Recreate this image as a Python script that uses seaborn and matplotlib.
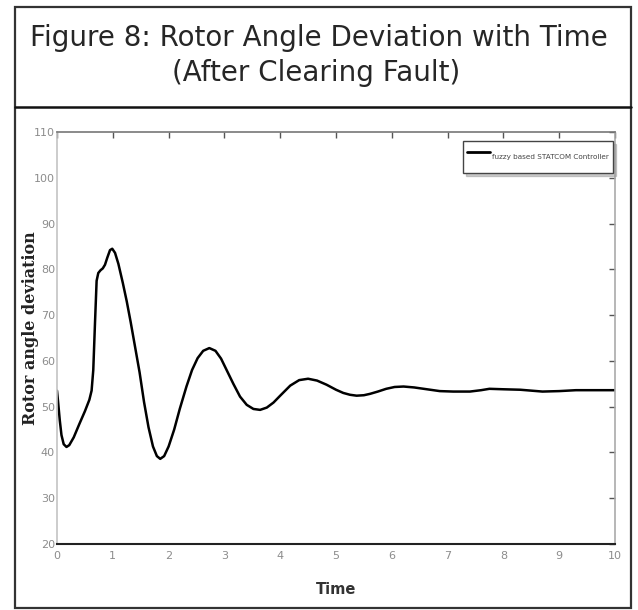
import matplotlib
matplotlib.use("Agg")
import matplotlib.pyplot as plt
import seaborn as sns
import pandas as pd
from matplotlib.patches import Rectangle
from matplotlib.lines import Line2D

# ---- data ----
time_s = [0.00, 0.02, 0.05, 0.08, 0.12, 0.17, 0.22, 0.30, 0.40, 0.50,
          0.58, 0.62, 0.65, 0.68, 0.71, 0.74, 0.78, 0.82, 0.86, 0.90,
          0.95, 0.99, 1.04, 1.10, 1.18, 1.25, 1.32, 1.40, 1.48, 1.56,
          1.64, 1.72, 1.79, 1.85, 1.92, 2.00, 2.10, 2.20, 2.32, 2.42,
          2.52, 2.62, 2.73, 2.84, 2.94, 3.04, 3.16, 3.28, 3.40, 3.52,
          3.64, 3.76, 3.88, 4.00, 4.18, 4.34, 4.50, 4.66, 4.83, 5.00,
          5.13, 5.25, 5.37, 5.50, 5.61, 5.75, 5.90, 6.05, 6.21, 6.40,
          6.63, 6.86, 7.10, 7.40, 7.60, 7.75, 8.00, 8.30, 8.50, 8.70,
          9.00, 9.30, 9.60, 10.00]
rotor_angle = [53.5, 51.0, 47.0, 43.8, 41.8, 41.2, 41.6, 43.3, 46.2, 49.0,
               51.5, 53.5, 58.0, 68.0, 77.5, 79.2, 79.8, 80.2, 81.0, 82.5,
               84.2, 84.5, 83.6, 81.2, 77.0, 73.0, 68.5, 63.0, 57.5, 51.0,
               45.5, 41.3, 39.2, 38.6, 39.2, 41.3, 45.0, 49.5, 54.4, 58.0,
               60.6, 62.2, 62.8, 62.2, 60.5, 58.0, 55.0, 52.2, 50.4, 49.5,
               49.3, 49.8, 50.9, 52.4, 54.6, 55.8, 56.1, 55.7, 54.8, 53.7,
               53.0, 52.6, 52.4, 52.5, 52.8, 53.3, 53.9, 54.3, 54.4, 54.2,
               53.8, 53.4, 53.3, 53.3, 53.6, 53.9, 53.8, 53.7, 53.5, 53.3,
               53.4, 53.6, 53.6, 53.6]
x_ticks = [0, 1, 2, 3, 4, 5, 6, 7, 8, 9, 10]
y_ticks = [20, 30, 40, 50, 60, 70, 80, 90, 100, 110]
series_label = "fuzzy based STATCOM Controller"
title_line1 = "Figure 8: Rotor Angle Deviation with Time"
title_line2 = "(After Clearing Fault)"
x_label = "Time"
y_label = "Rotor angle deviation"

df = pd.DataFrame({"Time": time_s, "angle": rotor_angle})

sns.set_style("white")
narrow = ["Liberation Sans Narrow", "DejaVu Sans"]

W, H = 638, 610
fig = plt.figure(figsize=(W / 100, H / 100), dpi=100)
fig.patch.set_facecolor("white")

def fx(px):
    return px / W

def fy(py):
    return 1 - py / H

# outer frame and divider
fig.patches.append(Rectangle((fx(15), fy(608)), fx(631) - fx(15), fy(7) - fy(608),
                             transform=fig.transFigure, fill=False,
                             edgecolor="#333333", lw=1.6, zorder=0))
fig.lines.append(Line2D([fx(15), fx(631)], [fy(107), fy(107)],
                        transform=fig.transFigure, color="#111111", lw=1.8))

# title
fig.text(fx(319), fy(38), title_line1, ha="center", va="center",
         fontsize=20, family="DejaVu Sans", color="#262626")
fig.text(fx(316), fy(73), title_line2, ha="center", va="center",
         fontsize=20, family="DejaVu Sans", color="#262626")

ax = fig.add_axes([fx(57), fy(544), fx(615) - fx(57), fy(132) - fy(544)])
sns.lineplot(data=df, x="Time", y="angle", color="black", lw=1.8,
             label=series_label, ax=ax)

ax.set_xlim(0, 10)
ax.set_ylim(20, 110)
ax.set_xticks(x_ticks)
ax.set_yticks(y_ticks)
ax.set_xticklabels([str(v) for v in x_ticks])
ax.set_yticklabels([str(v) for v in y_ticks])
ax.set_xlabel("")
ax.set_ylabel("")

ax.tick_params(axis="both", direction="in", length=4.5, width=1,
               top=True, right=True, colors="#555555",
               labelcolor="#8c8c8c", labelsize=8)
ax.tick_params(axis="x", pad=5)
ax.tick_params(axis="y", pad=1.5)
for lab in ax.get_xticklabels() + ax.get_yticklabels():
    lab.set_family(narrow)

ax.spines["left"].set_color("#c4c4c4")
ax.spines["left"].set_linewidth(1.2)
ax.spines["top"].set_color("#777777")
ax.spines["top"].set_linewidth(1.2)
ax.spines["bottom"].set_color("#222222")
ax.spines["bottom"].set_linewidth(1.5)
ax.spines["right"].set_color("#aaaaaa")
ax.spines["right"].set_linewidth(1.2)
for s in ax.spines.values():
    s.set_visible(True)

leg = ax.legend(loc="upper right", bbox_to_anchor=(0.9964, 0.978),
                borderaxespad=0, frameon=True, fancybox=False,
                edgecolor="#444444", framealpha=1, borderpad=0.55,
                handlelength=3.2, handleheight=4.7, handletextpad=0.3,
                prop={"family": narrow, "size": 5.2},
                shadow={"color": "#999999", "alpha": 0.5})
leg.get_frame().set_linewidth(1.0)
for txt in leg.get_texts():
    txt.set_color("#444444")
for ln in leg.get_lines():
    ln.set_linewidth(2.0)

# axis labels
fig.text(fx(336), fy(590), x_label, ha="center", va="center",
         fontsize=10.5, fontweight="bold", family=narrow, color="#333333")
fig.text(fx(31), fy(328), y_label, ha="center", va="center", rotation=90,
         fontsize=11.5, fontweight="bold", family="DejaVu Serif", color="#222222")

fig.savefig("out.png", dpi=100)
